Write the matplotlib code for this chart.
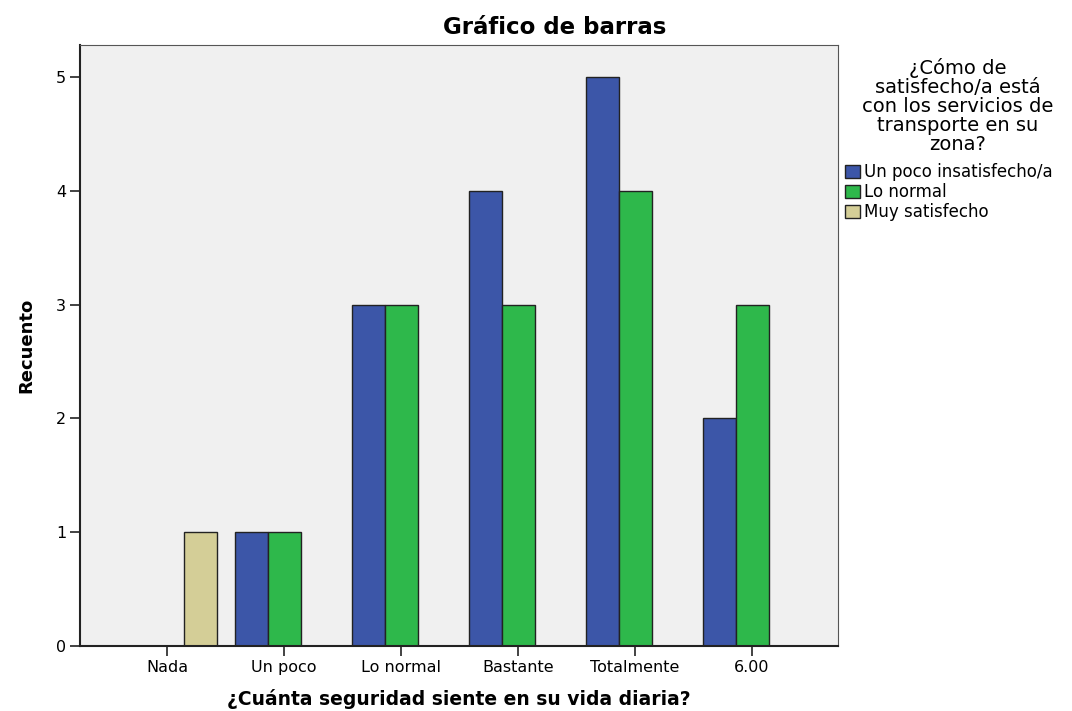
import matplotlib.pyplot as plt
import numpy as np
from matplotlib.patches import Patch

plt.rcParams['font.family'] = ['DejaVu Sans']

categories = ['Nada', 'Un poco', 'Lo normal', 'Bastante', 'Totalmente', '6.00']
series_names = ['Un poco insatisfecho/a', 'Lo normal', 'Muy satisfecho']
insatisfecho = [0, 1, 3, 4, 5, 2]
normal = [0, 1, 3, 3, 4, 3]
muy_satisfecho = [1, 0, 0, 0, 0, 0]
colors = ['#3c56a8', '#2eb84b', '#d4ce97']

fig = plt.figure(figsize=(10.72, 7.11), dpi=100)
ax = fig.add_axes([80/1072, 65/711, 758/1072, 601/711])
ax.set_facecolor('#f0f0f0')

x = np.arange(len(categories))
w = 0.282
for i, vals in enumerate([insatisfecho, normal, muy_satisfecho]):
    vals = np.array(vals)
    mask = vals > 0
    ax.bar(x[mask] + (i - 1) * w, vals[mask], width=w, color=colors[i],
           edgecolor='#222222', linewidth=1.0)

ax.set_xlim(-0.744, 5.735)
ax.set_ylim(0, 5.28)
ax.set_xticks(x)
ax.set_xticklabels(categories, fontsize=11.5)
ax.set_yticks([0, 1, 2, 3, 4, 5])
ax.set_yticklabels(['0', '1', '2', '3', '4', '5'], fontsize=11.5)
ax.tick_params(axis='both', length=7, width=1.2, color='#222222', pad=3)
for s in ['left', 'bottom']:
    ax.spines[s].set_linewidth(1.5)
    ax.spines[s].set_color('#222222')
for s in ['top', 'right']:
    ax.spines[s].set_linewidth(0.8)
    ax.spines[s].set_color('#555555')

ax.set_ylabel('Recuento', fontsize=13, fontweight='bold', labelpad=15)
ax.set_xlabel('¿Cuánta seguridad siente en su vida diaria?', fontsize=13.5,
              fontweight='bold', labelpad=10)

fig.text(555/1072, 1 - 28/711, 'Gráfico de barras', fontsize=16.5, fontweight='bold',
         ha='center', va='center')

fig.text(958/1072, 1 - 106/711,
         '¿Cómo de\nsatisfecho/a está\ncon los servicios de\ntransporte en su\nzona?',
         fontsize=14, ha='center', va='center', linespacing=1.0)

handles = [Patch(facecolor=colors[i], edgecolor='#222222', label=series_names[i])
           for i in range(3)]
fig.legend(handles=handles, loc='upper left', bbox_to_anchor=(842/1072, 1 - 160/711),
           frameon=False, fontsize=12, handlelength=0.85, handleheight=0.85,
           handletextpad=0.3, labelspacing=0.12, borderaxespad=0, borderpad=0.2)

fig.savefig('out.png', dpi=100)
